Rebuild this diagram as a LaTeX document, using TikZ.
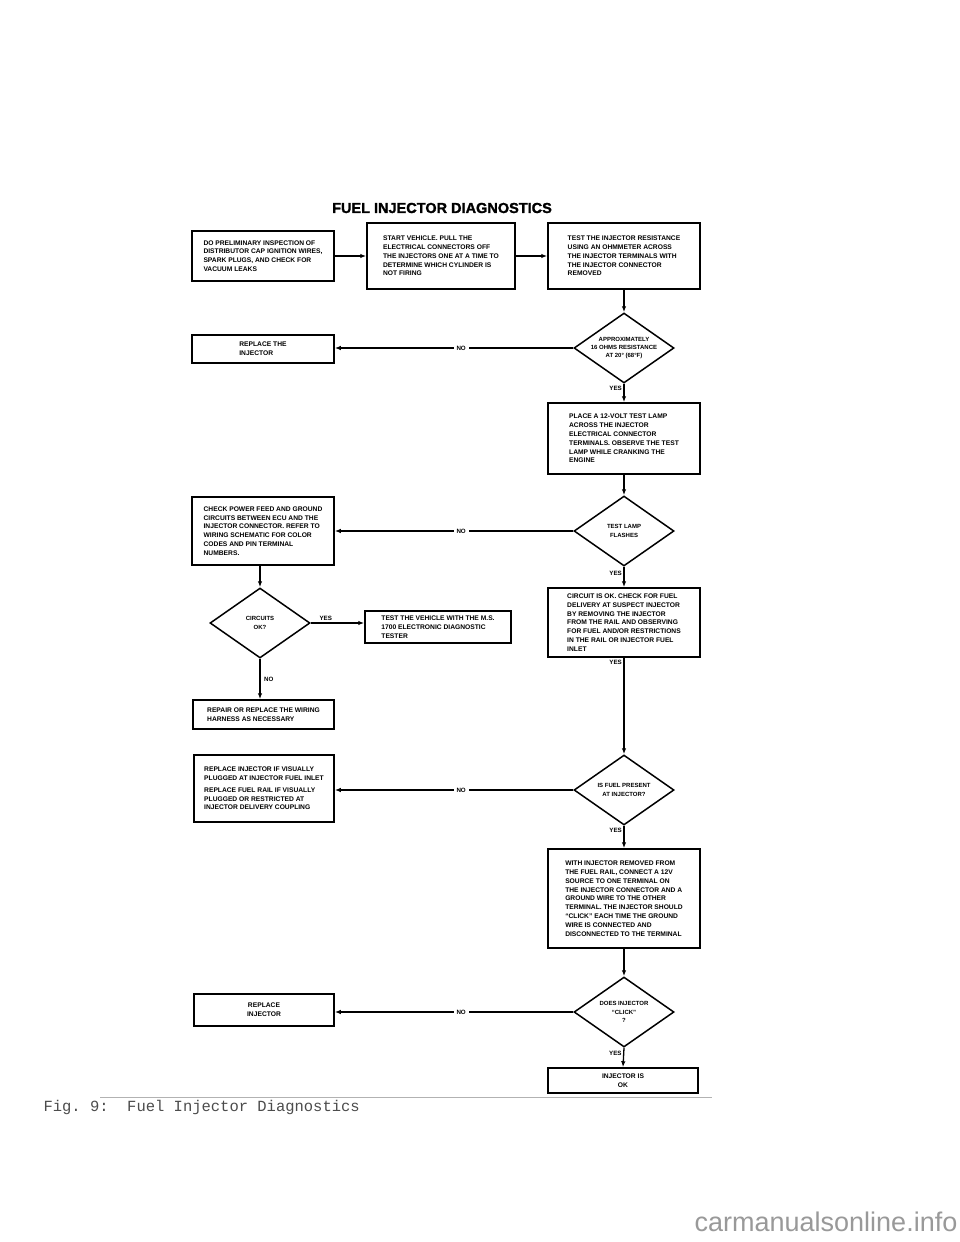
\documentclass[tikz,border=0pt]{standalone}
\usepackage{fontspec}
\setmainfont{Liberation Sans}
\setmonofont{Liberation Mono}
\usetikzlibrary{shapes.geometric,arrows.meta}
\tikzset{
  box/.style={draw, line width=1.5pt, align=left, inner sep=2pt, font=\fontsize{6.7}{8.8}\selectfont\bfseries},
  cbox/.style={box, align=center},
  dia/.style={draw, shape=diamond, line width=1.5pt, inner sep=0pt, minimum width=100pt, minimum height=70pt},
  dtxt/.style={align=center, inner sep=0pt, font=\fontsize{6}{8.2}\selectfont\bfseries},
  conn/.style={line width=1.3pt, -{Latex[length=6pt,width=4.5pt]}},
  lbl/.style={font=\fontsize{6.2}{7}\selectfont\bfseries, inner sep=1.5pt},
  nolbl/.style={lbl, fill=white, inner xsep=3pt},
}
\begin{document}
\begin{tikzpicture}[x=1pt,y=-1pt]
\fill[white] (0,0) rectangle (960,1242);
\useasboundingbox (0,0) rectangle (960,1242);

\node (title) at (442,208) {\fontsize{14.5}{16}\selectfont\bfseries\addfontfeature{FakeBold=1.5}FUEL INJECTOR DIAGNOSTICS};

% row 1
\node[box, minimum width=142pt, minimum height=50pt] (b1) at (263,256)
 {DO PRELIMINARY INSPECTION OF\\DISTRIBUTOR CAP IGNITION WIRES,\\SPARK PLUGS, AND CHECK FOR\\VACUUM LEAKS};
\node[box, minimum width=148pt, minimum height=66pt] (b2) at (441,256)
 {START VEHICLE. PULL THE\\ELECTRICAL CONNECTORS OFF\\THE INJECTORS ONE AT A TIME TO\\DETERMINE WHICH CYLINDER IS\\NOT FIRING};
\node[box, minimum width=152pt, minimum height=66pt] (b3) at (624,256)
 {TEST THE INJECTOR RESISTANCE\\USING AN OHMMETER ACROSS\\THE INJECTOR TERMINALS WITH\\THE INJECTOR CONNECTOR\\REMOVED};
\draw[conn] (b1.east) -- (b2.west);
\draw[conn] (b2.east) -- (b3.west);

% diamond 1
\node[dia] (d1) at (624,348) {};
\node[dtxt] (d1t) at (d1) {APPROXIMATELY\\16 OHMS RESISTANCE\\AT 20° (68°F)};
\draw[conn] (b3.south) -- (d1.north);
\node[box, minimum width=142pt, minimum height=28pt] (rb1) at (263,349) {REPLACE THE\\INJECTOR};
\draw[conn] (d1.west) -- node[nolbl, pos=0.47] {NO} (d1.west -| rb1.east);

\node[box, minimum width=152pt, minimum height=71pt] (pb) at (624,438.5)
 {PLACE A 12-VOLT TEST LAMP\\ACROSS THE INJECTOR\\ELECTRICAL CONNECTOR\\TERMINALS. OBSERVE THE TEST\\LAMP WHILE CRANKING THE\\ENGINE};
\draw[conn] (d1.south) -- node[lbl, anchor=east, pos=0.25] {YES} (pb.north);

% diamond 2
\node[dia] (d2) at (624,531) {};
\node[dtxt] (d2t) at (d2) {TEST LAMP\\FLASHES};
\draw[conn] (pb.south) -- (d2.north);
\node[box, minimum width=142pt, minimum height=68pt] (cp) at (263,531)
 {CHECK POWER FEED AND GROUND\\CIRCUITS BETWEEN ECU AND THE\\INJECTOR CONNECTOR. REFER TO\\WIRING SCHEMATIC FOR COLOR\\CODES AND PIN TERMINAL\\NUMBERS.};
\draw[conn] (d2.west) -- node[nolbl, pos=0.47] {NO} (d2.west -| cp.east);

\node[box, minimum width=152pt, minimum height=69pt] (co) at (624,622.5)
 {CIRCUIT IS OK. CHECK FOR FUEL\\DELIVERY AT SUSPECT INJECTOR\\BY REMOVING THE INJECTOR\\FROM THE RAIL AND OBSERVING\\FOR FUEL AND/OR RESTRICTIONS\\IN THE RAIL OR INJECTOR FUEL\\INLET};
\draw[conn] (d2.south) -- node[lbl, anchor=east, pos=0.3] {YES} (co.north);

% diamond 3 (left)
\node[dia] (d3) at (260,623) {};
\node[dtxt] (d3t) at (d3) {CIRCUITS\\OK?};
\draw[conn] (cp.south -| d3) -- (d3.north);
\node[box, minimum width=146pt, minimum height=32pt] (tv) at (438,627)
 {TEST THE VEHICLE WITH THE M.S.\\1700 ELECTRONIC DIAGNOSTIC\\TESTER};
\draw[conn] (d3.east) -- node[lbl, anchor=south, pos=0.28] {YES} (d3.east -| tv.west);
\node[box, minimum width=141pt, minimum height=29pt] (rp) at (263.5,714.5)
 {REPAIR OR REPLACE THE WIRING\\HARNESS AS NECESSARY};
\draw[conn] (d3.south) -- node[lbl, anchor=west, pos=0.5, xshift=2pt] {NO} (d3.south |- rp.north);

% diamond 4
\node[dia] (d4) at (624,790) {};
\node[dtxt] (d4t) at (d4) {IS FUEL PRESENT\\AT INJECTOR?};
\draw[conn] (co.south) -- node[lbl, anchor=east, pos=0.05] {YES} (d4.north);
\node[box, minimum width=140pt, minimum height=67pt] (ri) at (264,788.5)
 {REPLACE INJECTOR IF VISUALLY\\PLUGGED AT INJECTOR FUEL INLET\\[3pt]REPLACE FUEL RAIL IF VISUALLY\\PLUGGED OR RESTRICTED AT\\INJECTOR DELIVERY COUPLING};
\draw[conn] (d4.west) -- node[nolbl, pos=0.47] {NO} (d4.west -| ri.east);

\node[box, minimum width=152pt, minimum height=99pt] (wi) at (624,898.5)
 {WITH INJECTOR REMOVED FROM\\THE FUEL RAIL, CONNECT A 12V\\SOURCE TO ONE TERMINAL ON\\THE INJECTOR CONNECTOR AND A\\GROUND WIRE TO THE OTHER\\TERMINAL. THE INJECTOR SHOULD\\“CLICK” EACH TIME THE GROUND\\WIRE IS CONNECTED AND\\DISCONNECTED TO THE TERMINAL};
\draw[conn] (d4.south) -- node[lbl, anchor=east, pos=0.2] {YES} (wi.north);

% diamond 5
\node[dia] (d5) at (624,1012) {};
\node[dtxt] (d5t) at (d5) {DOES INJECTOR\\“CLICK”\\?};
\draw[conn] (wi.south) -- (d5.north);
\node[cbox, minimum width=140pt, minimum height=32pt] (rj) at (264,1010) {REPLACE\\INJECTOR};
\draw[conn] (d5.west) -- node[nolbl, pos=0.47] {NO} (d5.west -| rj.east);
\node[cbox, minimum width=150pt, minimum height=25pt] (ok) at (623,1080.5) {INJECTOR IS\\OK};
\draw[conn] (d5.south) -- node[lbl, anchor=east, pos=0.3] {YES} (ok.north);

% caption
\coordinate (r1) at (100,1097);
\coordinate (r2) at (712,1097);
\draw[line width=0.8pt, gray!60] (r1) -- (r2);
\node[anchor=west, text=black!70, font=\ttfamily\fontsize{15.5}{17}\selectfont] (cap) at (40,1107) {Fig. 9:\ \ Fuel Injector Diagnostics};

% watermark
\node[text=black!40, font=\fontsize{27}{30}\selectfont] (wm) at (826,1222) {carmanualsonline.info};
\end{tikzpicture}
\end{document}
